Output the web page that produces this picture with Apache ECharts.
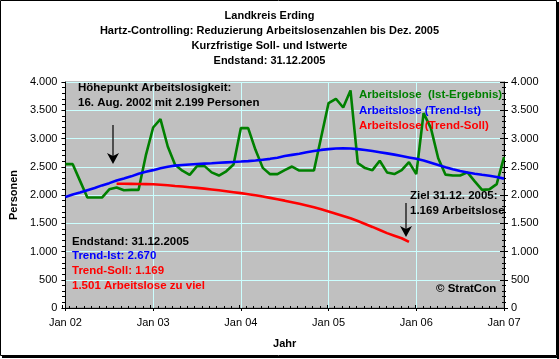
<!DOCTYPE html>
<html><head><meta charset="utf-8">
<script src="https://cdn.jsdelivr.net/npm/echarts@6/dist/echarts.min.js"></script>
<style>html,body{margin:0;padding:0;background:#fff}#c{width:559px;height:359px}</style>
</head><body><div id="c"></div>
<script>
// Monthly values, Jan 2002 .. Jan 2007 (61 months)
const tickLabels = ['Jan 02', 'Jan 03', 'Jan 04', 'Jan 05', 'Jan 06', 'Jan 07'];
const istErgebnis = [2546, 2546, 2250, 1955, 1955, 1955, 2100, 2132, 2085, 2090, 2090, 2700,
  3195, 3343, 2858, 2534, 2430, 2357, 2510, 2515, 2400, 2344, 2420, 2540,
  3184, 3184, 2800, 2480, 2369, 2369, 2440, 2504, 2433, 2433, 2433, 3030,
  3627, 3703, 3549, 3851, 2564, 2476, 2440, 2605, 2400, 2370, 2440, 2582,
  2369, 3450, 3184, 2650, 2360, 2344, 2344, 2400, 2240, 2091, 2100, 2192,
  2670];
const trendIst = [1965, 2010, 2045, 2085, 2125, 2170, 2210, 2255, 2290, 2330, 2375, 2410,
  2440, 2475, 2500, 2520, 2530, 2540, 2550, 2556, 2562, 2570, 2578, 2585,
  2592, 2600, 2610, 2625, 2640, 2660, 2690, 2710, 2730, 2755, 2778, 2798,
  2812, 2822, 2826, 2822, 2812, 2797, 2778, 2758, 2737, 2715, 2690, 2665,
  2640, 2610, 2572, 2532, 2492, 2457, 2425, 2398, 2377, 2358, 2342, 2318,
  2290];
const trendSollStartMonth = 7; // Aug 2002
const trendSoll = [2199, 2199, 2197, 2195, 2193, 2190, 2182, 2172, 2160, 2150, 2138, 2126,
  2113, 2098, 2083, 2067, 2050, 2033, 2014, 1994, 1972, 1949, 1925, 1900,
  1873, 1845, 1815, 1783, 1748, 1710, 1670, 1630, 1590, 1540, 1488, 1435,
  1380, 1325, 1280, 1235, 1169];
const seriesNames = ['Arbeitslose  (Ist-Ergebnis)', 'Arbeitslose (Trend-Ist)', 'Arbeitslose (Trend-Soll)'];
const titleLines = ['Landkreis Erding', 'Hartz-Controlling: Reduzierung Arbeitslosenzahlen bis Dez. 2005',
  'Kurzfristige Soll- und Istwerte', 'Endstand: 31.12.2005'];

const F = '"Liberation Sans", Arial, sans-serif';
const fmt = v => v >= 1000 ? Math.floor(v / 1000) + '.' + String(v % 1000).padStart(3, '0') : String(v);

const chart = echarts.init(document.getElementById('c'), null, {renderer: 'canvas'});

const lblY = (pos, margin) => ({
  type: 'value', gridIndex: 0, position: pos, min: 0, max: 4000, interval: 500,
  axisLine: {show: true, lineStyle: {color: '#000', width: 1}},
  axisTick: {show: true, length: 4, lineStyle: {color: '#000'}},
  minorTick: {show: true, splitNumber: 5, length: 2, lineStyle: {color: '#000'}},
  axisLabel: {formatter: fmt, color: '#000', fontSize: 11, fontFamily: F, margin: margin},
  splitLine: {show: pos === 'left', lineStyle: {color: '#ccffff', width: 1}}
});
const inY = (pos) => ({
  type: 'value', gridIndex: 1, position: pos, min: 0, max: 4000, interval: 500,
  axisLine: {show: false},
  axisTick: {show: true, inside: true, length: 4, lineStyle: {color: '#000'}},
  minorTick: {show: true, splitNumber: 5, length: 2, lineStyle: {color: '#000'}},
  axisLabel: {show: false}, splitLine: {show: false}
});

const graphic = [
  {type: 'rect', shape: {x: 0.5, y: 0.5, width: 556, height: 355}, style: {fill: 'none', stroke: '#000', lineWidth: 1}, z: 100},
  {type: 'rect', shape: {x: 557, y: 2, width: 2, height: 357}, style: {fill: '#000'}, z: 100},
  {type: 'rect', shape: {x: 2, y: 356, width: 557, height: 2}, style: {fill: '#000'}, z: 100}
];
titleLines.forEach((t, i) => graphic.push({
  type: 'text', x: 269.5, y: 15.5 + i * 15,
  style: {text: t, fill: '#000', font: 'bold 11px ' + F, textAlign: 'center', textVerticalAlign: 'middle'}
}));
const addText = (t, x, y, color) => graphic.push({
  type: 'text', x: x, y: y, z: 50,
  style: {text: t, fill: color, font: 'bold 11.5px ' + F, textAlign: 'left', textVerticalAlign: 'middle'}
});
addText('Höhepunkt Arbeitslosigkeit:', 78, 88, '#000');
addText('16. Aug. 2002 mit 2.199 Personen', 78, 103, '#000');
addText(seriesNames[0], 359, 95, '#008000');
addText(seriesNames[1], 359, 110.5, '#0000ff');
addText(seriesNames[2], 359, 125.5, '#ff0000');
addText('Ziel 31.12. 2005:', 410, 196, '#000');
addText('1.169 Arbeitslose', 410, 211, '#000');
addText('Endstand: 31.12.2005', 72, 241.5, '#000');
addText('Trend-Ist: 2.670', 72, 256, '#0000ff');
addText('Trend-Soll: 1.169', 72, 271, '#ff0000');
addText('1.501 Arbeitslose zu viel', 72, 286, '#ff0000');
addText('© StratCon', 436, 289, '#000');
// arrows
const arrow = (x, y1, y2) => {
  graphic.push({type: 'line', z: 50, shape: {x1: x, y1: y1, x2: x, y2: y2 - 8}, style: {stroke: '#000', lineWidth: 1.2}});
  graphic.push({type: 'polygon', z: 50, shape: {points: [[x - 6, y2 - 11], [x, y2 - 8], [x + 6, y2 - 11], [x, y2]]}, style: {fill: '#000'}});
};
arrow(113, 125, 164);
arrow(406, 203, 237);

chart.setOption({
  animation: false,
  backgroundColor: '#fff',
  grid: [
    {left: 62, right: 55, top: 82, bottom: 51, show: true, backgroundColor: '#c0c0c0', borderColor: '#808080', borderWidth: 1},
    {left: 62, right: 55, top: 82, bottom: 51}
  ],
  xAxis: [
    {type: 'value', gridIndex: 0, min: 0, max: 60, interval: 12,
      axisLine: {lineStyle: {color: '#000'}},
      axisTick: {show: true, length: 3, lineStyle: {color: '#000'}},
      axisLabel: {formatter: v => tickLabels[Math.round(v / 12)], color: '#000', fontSize: 11, fontFamily: F, margin: 9},
      splitLine: {show: true, lineStyle: {color: '#ccffff', width: 1}},
      name: 'Jahr', nameLocation: 'middle', nameGap: 30,
      nameTextStyle: {fontWeight: 'bold', fontSize: 11, color: '#000', fontFamily: F}},
    {type: 'value', gridIndex: 1, min: 0, max: 60, interval: 12,
      axisLine: {show: false},
      axisTick: {show: true, inside: true, length: 3, lineStyle: {color: '#000'}},
      minorTick: {show: true, splitNumber: 12, length: 2, lineStyle: {color: '#000'}},
      axisLabel: {show: false}, splitLine: {show: false}}
  ],
  yAxis: [
    Object.assign(lblY('left', 8), {name: 'Personen', nameLocation: 'middle', nameGap: 42,
      nameTextStyle: {fontWeight: 'bold', fontSize: 11, color: '#000', fontFamily: F}}),
    lblY('right', 7),
    inY('left'), inY('right')
  ],
  graphic: graphic,
  series: [
    {name: seriesNames[0], type: 'line', xAxisIndex: 0, yAxisIndex: 0, showSymbol: false, z: 3,
      data: istErgebnis.map((v, i) => [i, v]), lineStyle: {color: '#008000', width: 2.6}, itemStyle: {color: '#008000'}},
    {name: seriesNames[1], type: 'line', xAxisIndex: 0, yAxisIndex: 0, showSymbol: false, z: 4,
      data: trendIst.map((v, i) => [i, v]), lineStyle: {color: '#0000ff', width: 2.6}, itemStyle: {color: '#0000ff'}},
    {name: seriesNames[2], type: 'line', xAxisIndex: 0, yAxisIndex: 0, showSymbol: false, z: 5,
      data: trendSoll.map((v, i) => [i + trendSollStartMonth, v]), lineStyle: {color: '#ff0000', width: 2.6}, itemStyle: {color: '#ff0000'}}
  ]
});
</script></body></html>
